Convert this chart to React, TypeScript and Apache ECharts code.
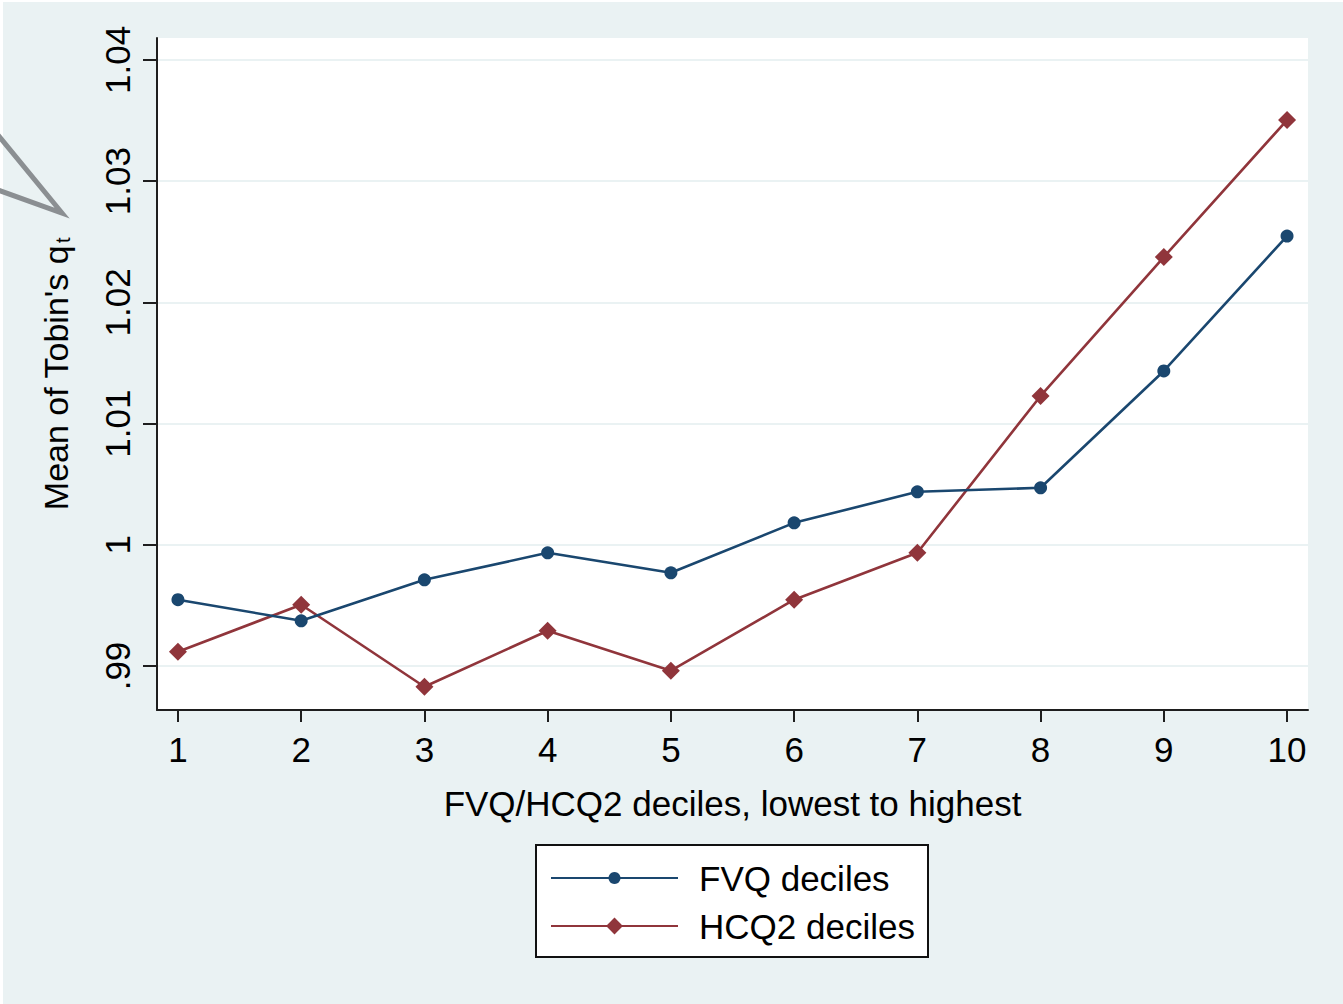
import React, { useEffect, useRef } from "react";
import * as echarts from "echarts";

const deciles = [1, 2, 3, 4, 5, 6, 7, 8, 9, 10];
const fvqValues = [0.99547, 0.99373, 0.99711, 0.99934, 0.99769, 1.00181, 1.00437, 1.0047, 1.01434, 1.02547];
const hcq2Values = [0.99118, 0.99505, 0.98829, 0.99291, 0.98961, 0.99547, 0.99934, 1.01228, 1.02374, 1.03504];
const yTickValues = [0.99, 1.0, 1.01, 1.02, 1.03, 1.04];
const seriesNames = ["FVQ deciles", "HCQ2 deciles"];

const NAVY = "#1a476f";
const MAROON = "#90353b";
const BG = "#eaf2f3";
const AXIS = "#1e1e1e";
const FONT = "Liberation Sans, Arial, sans-serif";

function fmtY(v: number): string {
  const s = String(Math.round(v * 100) / 100);
  return s.startsWith("0.") ? s.slice(1) : s;
}

const legendText = {
  fontFamily: FONT,
  fontSize: 35,
  color: "#000",
  lineHeight: 40,
  padding: [0, 0, 0, 16],
};

export default function App() {
  const ref = useRef<HTMLDivElement>(null);
  useEffect(() => {
    if (!ref.current) return;
    const chart = echarts.init(ref.current, undefined, { renderer: "svg" });
    chart.setOption({
      animation: false,
      backgroundColor: "#ffffff",
      textStyle: { fontFamily: FONT },
      graphic: [
        {
          type: "rect",
          z: -10,
          silent: true,
          shape: { x: 3, y: 2, width: 1343, height: 1004 },
          style: { fill: BG },
        },
        {
          type: "polyline",
          z: 10,
          silent: true,
          shape: { points: [[-2, 135], [62, 213], [-2, 190]] },
          style: { stroke: "#8b8f92", lineWidth: 5, fill: "none", lineJoin: "miter" },
        },
        {
          type: "rect",
          z: 1,
          silent: true,
          shape: { x: 536, y: 845, width: 392, height: 112 },
          style: { fill: "#ffffff", stroke: "#111", lineWidth: 2 },
        },
      ],
      grid: {
        left: 157,
        top: 38,
        right: 35,
        bottom: 294,
        show: true,
        backgroundColor: "#ffffff",
        borderWidth: 0,
        containLabel: false,
      },
      legend: [
        {
          orient: "vertical",
          left: 550,
          top: 858,
          padding: 0,
          itemWidth: 127,
          itemHeight: 15,
          data: [seriesNames[0]],
          textStyle: legendText,
        },
        {
          orient: "vertical",
          left: 550,
          top: 906,
          padding: 0,
          itemWidth: 127,
          itemHeight: 21,
          data: [seriesNames[1]],
          textStyle: legendText,
        },
      ],
      xAxis: {
        type: "value",
        min: 0.83,
        max: 10.17,
        name: "FVQ/HCQ2 deciles, lowest to highest",
        nameLocation: "middle",
        nameGap: 76,
        nameTextStyle: { fontFamily: FONT, fontSize: 35, color: "#000" },
        axisLine: { show: true, onZero: false, lineStyle: { color: AXIS, width: 2 } },
        axisTick: { show: true, length: 12, lineStyle: { color: AXIS, width: 2 }, customValues: deciles },
        axisLabel: {
          customValues: deciles,
          margin: 22,
          fontFamily: FONT,
          fontSize: 35,
          color: "#000",
        },
        splitLine: { show: false },
      },
      yAxis: {
        type: "value",
        min: 0.98637,
        max: 1.04181,
        name: "Mean of Tobin's q{sub|t}",
        nameLocation: "middle",
        nameRotate: 90,
        nameGap: 84,
        nameTextStyle: {
          fontFamily: FONT,
          fontSize: 34,
          color: "#000",
          rich: {
            sub: { fontFamily: FONT, fontSize: 20, color: "#000", verticalAlign: "bottom", padding: [0, 0, 0, 2] },
          },
        },
        axisLine: { show: true, onZero: false, lineStyle: { color: AXIS, width: 2 } },
        axisTick: { show: true, length: 14, lineStyle: { color: AXIS, width: 2 }, customValues: yTickValues },
        axisLabel: {
          customValues: yTickValues,
          rotate: 90,
          margin: 22,
          fontFamily: FONT,
          fontSize: 35,
          color: "#000",
          formatter: (v: number) => fmtY(v),
        },
        splitLine: { show: true, customValues: yTickValues, lineStyle: { color: BG, width: 2 } },
      },
      series: [
        {
          name: seriesNames[0],
          type: "line",
          data: deciles.map((d, i) => [d, fvqValues[i]]),
          symbol: "circle",
          symbolSize: 13,
          lineStyle: { color: NAVY, width: 2.6 },
          itemStyle: { color: NAVY },
          z: 3,
        },
        {
          name: seriesNames[1],
          type: "line",
          data: deciles.map((d, i) => [d, hcq2Values[i]]),
          symbol: "diamond",
          symbolSize: 18,
          lineStyle: { color: MAROON, width: 2.6 },
          itemStyle: { color: MAROON },
          z: 2,
        },
      ],
    });
    return () => chart.dispose();
  }, []);
  return (
    <div
      ref={ref}
      style={{ position: "absolute", left: 0, top: 0, width: 1343, height: 1004 }}
    />
  );
}
